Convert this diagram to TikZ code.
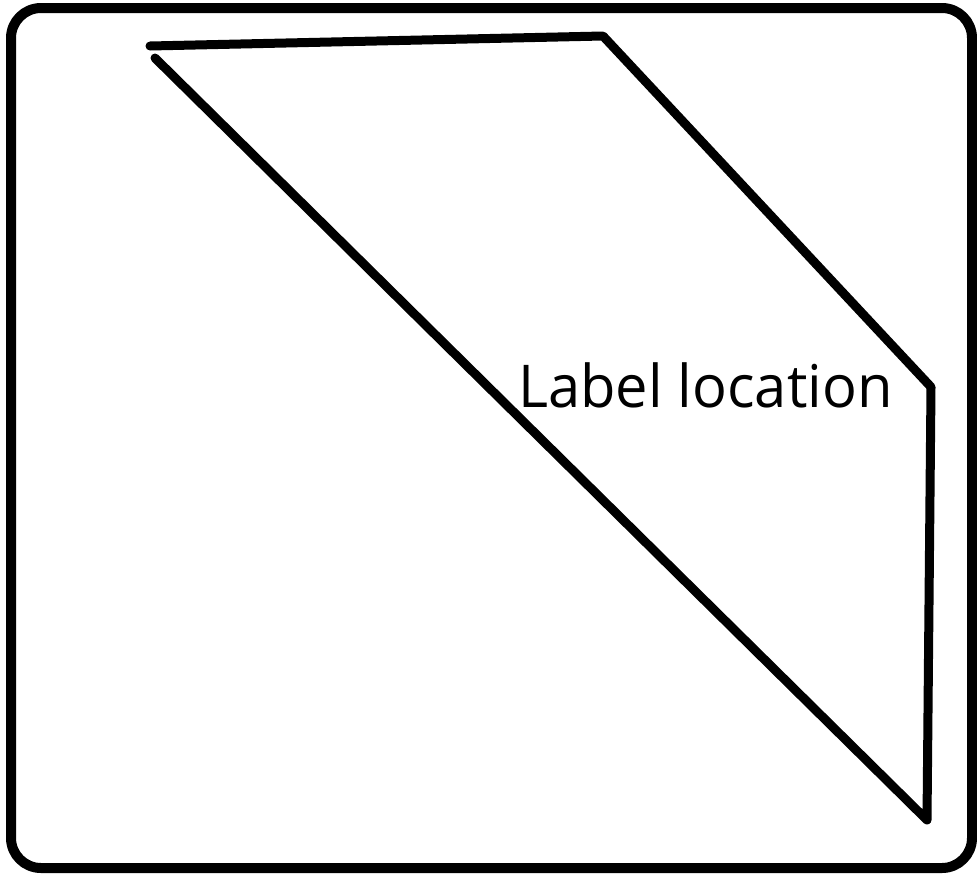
\documentclass[tikz,border=0pt]{standalone}
\usepackage{fontspec}
\setmainfont{Open Sans}
\usetikzlibrary{calc}
\tikzset{
  every path/.style={
    black,
    line cap=round,
    line join=round
  },
  frame/.style={
    line width=10pt,
    rounded corners=30pt
  },
  outline/.style={
    line width=9pt
  },
  tag/.style={
    inner sep=0pt,
    anchor=base west,
    font=\fontsize{59pt}{70pt}\selectfont
  }
}

\begin{document}
\begin{tikzpicture}[x=1pt, y=-1pt]
    \useasboundingbox (0,0) rectangle (977,873);
    % 枠
    \draw[frame] (11,8) rectangle (972,868);

    % 頂点
    \coordinate (P) at (150,46);
    \coordinate (Q) at (603,36);
    \coordinate (R) at (931,387);
    \coordinate (S) at (927,820);
    \coordinate (T) at (155,58);

    % 辺
    \draw[outline] (P) -- (Q) -- (R) -- (S) -- (T);

    % ラベル
    \node[tag, xscale=0.98] (lbl) at (518,407) {Label location};
\end{tikzpicture}
\end{document}
